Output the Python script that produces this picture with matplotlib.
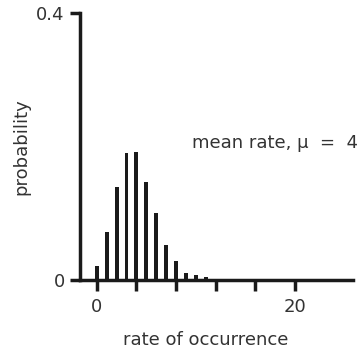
import matplotlib
matplotlib.use('Agg')
import matplotlib.pyplot as plt

# probabilities (rate 0..11)
rates = [0, 1, 2, 3, 4, 5, 6, 7, 8, 9, 10, 11]
probs = [0.021, 0.072, 0.139, 0.190, 0.192, 0.147, 0.100, 0.052, 0.029, 0.010, 0.007, 0.004]
xticks = [0, 4, 8, 12, 16, 20]
xticklabels = ['0', '', '', '', '', '20']
yticks = [0, 0.4]
yticklabels = ['0', '0.4']

txt = '#333333'
plt.rcParams['font.family'] = ['DejaVu Sans']

fig = plt.figure(figsize=(3.61, 3.49), dpi=100)
ax = fig.add_axes([0.2216, 0.1977, 0.7564, 0.7651])

ax.bar(rates, probs, width=0.4, color='#1a1a1a')

ax.set_xlim(-1.7, 25.9)
ax.set_ylim(0, 0.4)
ax.set_xticks(xticks)
ax.set_xticklabels(xticklabels)
ax.set_yticks(yticks)
ax.set_yticklabels(yticklabels)

for s in ['top', 'right']:
    ax.spines[s].set_visible(False)
for s in ['left', 'bottom']:
    ax.spines[s].set_linewidth(2.5)
    ax.spines[s].set_color('#1a1a1a')

ax.tick_params(axis='x', direction='out', length=8, width=2.5, color='#1a1a1a',
               labelsize=13, labelcolor=txt, pad=5)
ax.tick_params(axis='y', direction='out', length=7, width=2.5, color='#1a1a1a',
               labelsize=13, labelcolor=txt, pad=4)

ax.set_xlabel('rate of occurrence', fontsize=13, color=txt)
ax.set_ylabel('probability', fontsize=13, color=txt)
ax.xaxis.set_label_coords(0.4615, -0.19)
ax.yaxis.set_label_coords(-0.183, 0.5)

ax.text(26.4, 0.205, 'mean rate, \u03bc  =  4', fontsize=13, color=txt,
        ha='right', va='center')

fig.savefig('out.png', dpi=100)
